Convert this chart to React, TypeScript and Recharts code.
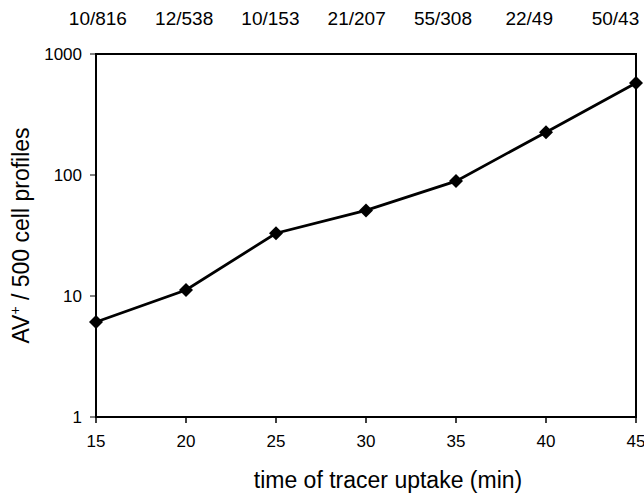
import React from "react";
import {
  LineChart,
  Line,
  XAxis,
  YAxis,
  ReferenceArea,
} from "recharts";

const minutes = [15, 20, 25, 30, 35, 40, 45];
const avPositive = [6.1, 11.2, 33, 51, 89, 226, 576];
const topLabels = ["10/816", "12/538", "10/153", "21/207", "55/308", "22/49", "50/43"];
const yTicks = [1, 10, 100, 1000];

const data = minutes.map((t, i) => ({ t, av: avPositive[i] }));

const FONT = "'Liberation Sans', Arial, Helvetica, sans-serif";

const Diamond = (props: any) => {
  const { cx, cy } = props;
  if (cx == null || cy == null) return null;
  const r = 7;
  return (
    <path
      d={`M${cx},${cy - r} L${cx + r},${cy} L${cx},${cy + r} L${cx - r},${cy} Z`}
      fill="#000"
      stroke="none"
    />
  );
};

const YLabel = (props: any) => {
  const { viewBox } = props;
  const cy = viewBox.y + viewBox.height / 2;
  const x = 29;
  return (
    <text
      x={x}
      y={cy}
      transform={`rotate(-90 ${x} ${cy})`}
      textAnchor="middle"
      fontSize={23}
      fontFamily={FONT}
      fill="#000"
    >
      AV
      <tspan dy={-9} fontSize={14}>+</tspan>
      <tspan dy={9}> / 500 cell profiles</tspan>
    </text>
  );
};

export default function App() {
  return (
    <div style={{ position: "absolute", left: 0, top: 0, background: "#fff" }}>
      <LineChart
        width={644}
        height={495}
        data={data}
        margin={{ top: 0, right: 8, bottom: 0, left: 0 }}
      >
        <XAxis
          xAxisId="top"
          orientation="top"
          dataKey="t"
          type="number"
          domain={[14.89, 46.19]}
          ticks={minutes}
          tickFormatter={(v: number) => topLabels[minutes.indexOf(v)] ?? ""}
          axisLine={false}
          tickLine={false}
          tickSize={0}
          tickMargin={29}
          height={54}
          interval={0}
          tick={{ fontSize: 19, fill: "#000", fontFamily: FONT }}
        />
        <XAxis
          xAxisId="main"
          dataKey="t"
          type="number"
          domain={[15, 45]}
          ticks={minutes}
          interval={0}
          height={78}
          axisLine={{ stroke: "#000", strokeWidth: 2 }}
          tickLine={{ stroke: "#000", strokeWidth: 1.5 }}
          tickSize={6}
          tickMargin={12}
          tick={{ fontSize: 17, fill: "#000", fontFamily: FONT }}
          label={{
            value: "time of tracer uptake (min)",
            position: "insideBottom",
            offset: 7,
            dx: 22,
            fontSize: 23,
            fill: "#000",
            fontFamily: FONT,
          }}
        />
        <YAxis
          scale="log"
          domain={[1, 1000]}
          ticks={yTicks}
          allowDataOverflow
          width={96}
          axisLine={{ stroke: "#000", strokeWidth: 2 }}
          tickLine={{ stroke: "#000", strokeWidth: 1 }}
          tickSize={6}
          tickMargin={8}
          tick={{ fontSize: 17, fill: "#000", fontFamily: FONT }}
          label={<YLabel />}
        />
        <ReferenceArea
          xAxisId="main"
          x1={15}
          x2={45}
          y1={1}
          y2={1000}
          fill="none"
          stroke="#000"
          strokeWidth={2}
          fillOpacity={0}
        />
        <Line
          xAxisId="top"
          dataKey="av"
          stroke="none"
          dot={false}
          activeDot={false}
          legendType="none"
          isAnimationActive={false}
        />
        <Line
          xAxisId="main"
          dataKey="av"
          stroke="#000"
          strokeWidth={2.8}
          dot={<Diamond />}
          activeDot={false}
          isAnimationActive={false}
        />
      </LineChart>
    </div>
  );
}
